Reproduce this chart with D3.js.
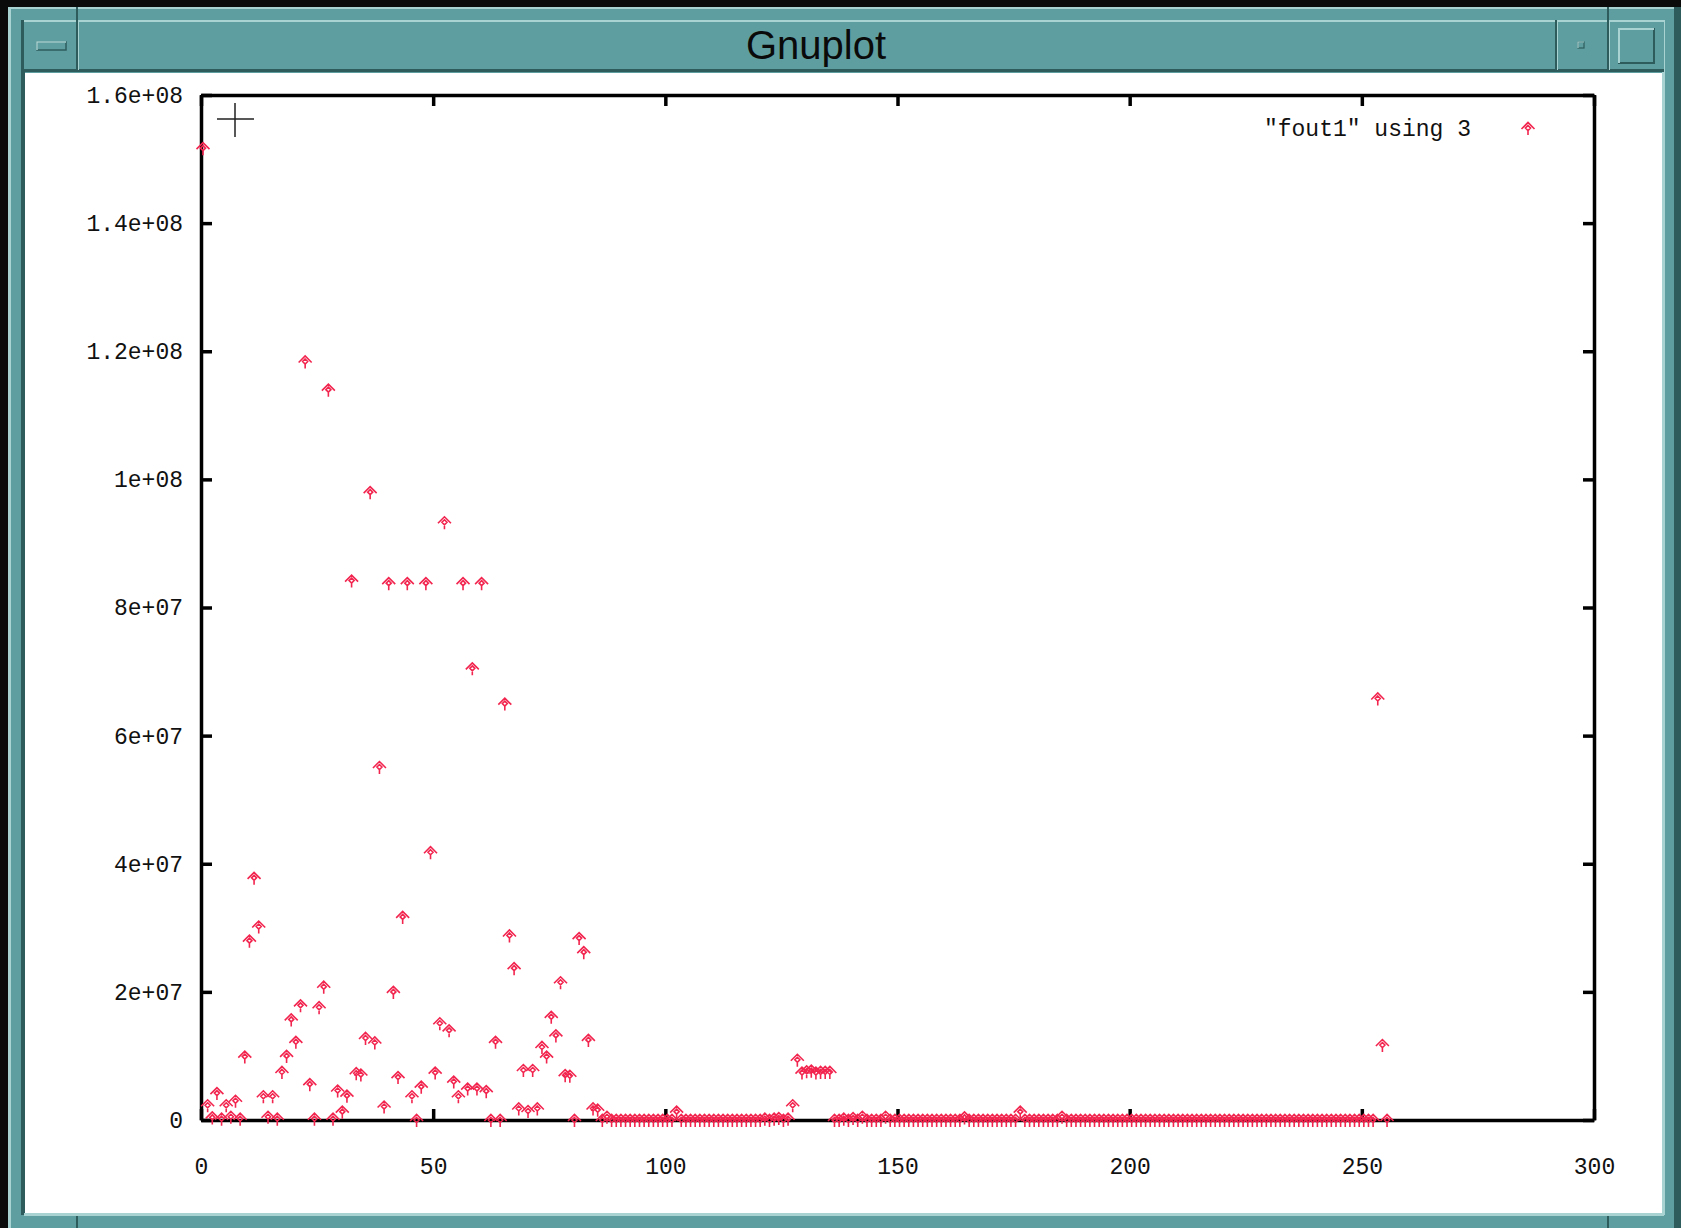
<!DOCTYPE html>
<html>
<head>
    <meta charset="UTF-8">
    <script src="https://d3js.org/d3.v7.min.js"></script>
    <style>
        body {
            margin: 0;
            background: #0b0b0b;
        }

        #gnuplotWindow svg {
            display: block;
        }

        .tick text,
        .legendText {
            font-family: "Liberation Mono", "DejaVu Sans Mono", monospace;
            font-size: 23px;
            fill: #111;
        }

        .titleText {
            font-family: "Liberation Sans", Arial, sans-serif;
            font-size: 40px;
            fill: #0a0a0a;
        }
    </style>
</head>

<body>
    <div id="gnuplotWindow">
        <svg></svg>
    </div>
    <script>
        // "fout1" using 3  -> column 3 plotted against the row index (values in millions)
        const seriesLabel = '"fout1" using 3'
        const valuesMillions = [
            151.7, 2.3, 0.4, 4.2, 0.2, 2.3, 0.5, 3.0, 0.2, 9.9, 28.0, 37.8, 30.2, 3.7, 0.5, 3.7,
            0.2, 7.5, 10.0, 15.7, 12.2, 17.9, 118.4, 5.6, 0.2, 17.6, 20.8, 114.0, 0.2, 4.6, 1.3, 3.8,
            84.2, 7.3, 7.1, 12.8, 98.0, 12.1, 55.1, 2.1, 83.8, 20.0, 6.7, 31.7, 83.8, 3.7, 0, 5.2,
            83.8, 41.8, 7.4, 15.1, 93.3, 14.0, 6.0, 3.7, 83.8, 4.9, 70.5, 4.9, 83.8, 4.5, 0, 12.2,
            0, 65.0, 28.8, 23.7, 1.8, 7.8, 1.4, 7.8, 1.8, 11.4, 9.9, 16.1, 13.2, 21.5, 7.0, 6.9,
            0, 28.4, 26.2, 12.5, 1.8, 1.6, 0, 0.5, 0, 0, 0, 0, 0, 0, 0, 0,
            0, 0, 0, 0, 0, 0, 1.3, 0, 0, 0, 0, 0, 0, 0, 0, 0,
            0, 0, 0, 0, 0, 0, 0, 0, 0, 0.2, 0, 0.2, 0.3, 0, 0.2, 2.3,
            9.4, 7.4, 7.6, 7.7, 7.4, 7.5, 7.5, 7.5, 0, 0, 0.2, 0, 0.3, 0, 0.5, 0,
            0, 0, 0, 0.5, 0, 0, 0, 0, 0, 0, 0, 0, 0, 0, 0, 0,
            0, 0, 0, 0, 0.4, 0, 0, 0, 0, 0, 0, 0, 0, 0, 0, 0,
            1.3, 0, 0, 0, 0, 0, 0, 0, 0, 0.5, 0, 0, 0, 0, 0, 0,
            0, 0, 0, 0, 0, 0, 0, 0, 0, 0, 0, 0, 0, 0, 0, 0,
            0, 0, 0, 0, 0, 0, 0, 0, 0, 0, 0, 0, 0, 0, 0, 0,
            0, 0, 0, 0, 0, 0, 0, 0, 0, 0, 0, 0, 0, 0, 0, 0,
            0, 0, 0, 0, 0, 0, 0, 0, 0, 0, 0, 0, 0, 65.8, 11.7, 0
        ]
        const xTickValues = [0, 50, 100, 150, 200, 250, 300]
        const yTickValues = [0, 2e7, 4e7, 6e7, 8e7, 1e8, 1.2e8, 1.4e8, 1.6e8]
        const yTickLabels = ["0", "2e+07", "4e+07", "6e+07", "8e+07", "1e+08", "1.2e+08", "1.4e+08", "1.6e+08"]

        let points = valuesMillions.map((v, i) => ({ index: i, value: v * 1e6 }))

        let width = 1681, height = 1228
        let teal = "#5f9ea0", light = "#a9d3d3", dark = "#2e5c5c"

        let svg = d3.select("#gnuplotWindow").select("svg")
            .attr("width", width)
            .attr("height", height)

        // ---- window frame (X11 / mwm style) ----
        svg.append("rect").attr("width", width).attr("height", height).attr("fill", "#0b0b0b")
        svg.append("rect").attr("x", 8).attr("y", 7).attr("width", width - 8).attr("height", height - 7).attr("fill", teal)
        svg.append("rect").attr("x", 8).attr("y", 7).attr("width", 3).attr("height", height - 7).attr("fill", light)
        svg.append("rect").attr("x", 8).attr("y", 7).attr("width", width - 8).attr("height", 2).attr("fill", light)
        svg.append("rect").attr("x", 21).attr("y", 20).attr("width", 4).attr("height", 1195).attr("fill", dark)
        svg.append("rect").attr("x", 1662).attr("y", 20).attr("width", 3).attr("height", 1195).attr("fill", light)
        svg.append("rect").attr("x", 1674).attr("y", 7).attr("width", 7).attr("height", height - 7).attr("fill", dark)

        // title bar
        svg.append("rect").attr("x", 24).attr("y", 20).attr("width", 1640).attr("height", 52).attr("fill", teal)
        svg.append("rect").attr("x", 24).attr("y", 20).attr("width", 1640).attr("height", 2).attr("fill", light)
        svg.append("rect").attr("x", 24).attr("y", 69).attr("width", 1640).attr("height", 3).attr("fill", dark)

        // separators in the title bar and the frame corners
        ;[77, 1556, 1608].forEach(sx => {
            svg.append("rect").attr("x", sx - 1).attr("y", 20).attr("width", 2).attr("height", 50).attr("fill", dark)
            svg.append("rect").attr("x", sx + 1).attr("y", 20).attr("width", 1).attr("height", 50).attr("fill", light)
        })
        ;[77, 1608].forEach(sx => {
            svg.append("rect").attr("x", sx - 1).attr("y", 7).attr("width", 2).attr("height", 13).attr("fill", dark)
            svg.append("rect").attr("x", sx - 1).attr("y", 1213).attr("width", 2).attr("height", 15).attr("fill", dark)
        })

        // menu button bar
        svg.append("rect").attr("x", 37).attr("y", 42).attr("width", 29).attr("height", 8).attr("fill", teal)
            .attr("stroke", dark).attr("stroke-width", 1.5)
        svg.append("path").attr("d", "M37,50 V42 H66").attr("fill", "none").attr("stroke", light).attr("stroke-width", 1.5)
        // minimize
        svg.append("rect").attr("x", 1578).attr("y", 42).attr("width", 6).attr("height", 6).attr("fill", teal)
            .attr("stroke", dark).attr("stroke-width", 1.2)
        svg.append("path").attr("d", "M1578,48 V42 H1584").attr("fill", "none").attr("stroke", light).attr("stroke-width", 1.2)
        // maximize
        svg.append("rect").attr("x", 1619).attr("y", 29).attr("width", 35).attr("height", 34).attr("fill", teal)
            .attr("stroke", dark).attr("stroke-width", 2)
        svg.append("path").attr("d", "M1619,63 V29 H1654").attr("fill", "none").attr("stroke", light).attr("stroke-width", 2)

        svg.append("text")
            .attr("class", "titleText")
            .attr("x", 816)
            .attr("y", 59)
            .attr("text-anchor", "middle")
            .text("Gnuplot")

        // client area
        svg.append("rect").attr("x", 25).attr("y", 73).attr("width", 1637).attr("height", 1140).attr("fill", "#ffffff")
        svg.append("rect").attr("x", 24).attr("y", 1213).attr("width", 1640).attr("height", 3).attr("fill", light)

        // ---- plot ----
        let x = d3.scaleLinear().domain([0, 300]).range([201, 1594])
        let y = d3.scaleLinear().domain([0, 1.6e8]).range([1120, 95])

        let plot = svg.append("g")

        plot.append("g")
            .attr("transform", `translate(0,${y(0)})`)
            .call(d3.axisBottom(x).tickValues(xTickValues).tickSize(-11).tickSizeOuter(0).tickPadding(38))
        plot.append("g")
            .attr("transform", `translate(0,${y(1.6e8)})`)
            .call(d3.axisTop(x).tickValues(xTickValues).tickSize(-11).tickSizeOuter(0).tickFormat(""))
        plot.append("g")
            .attr("transform", `translate(${x(0)},0)`)
            .call(d3.axisLeft(y).tickValues(yTickValues).tickSize(-11).tickSizeOuter(0).tickPadding(18)
                .tickFormat((d, i) => yTickLabels[i]))
        plot.append("g")
            .attr("transform", `translate(${x(300)},0)`)
            .call(d3.axisRight(y).tickValues(yTickValues).tickSize(-11).tickSizeOuter(0).tickFormat(""))

        plot.selectAll(".domain").attr("stroke", "#000").attr("stroke-width", 3.5)
        plot.selectAll(".tick line").attr("stroke", "#000").attr("stroke-width", 3.5)
        plot.selectAll(".tick text").style("font-size", "23px")

        // gnuplot point symbol (roof, small diamond, stem); drawn a little right of the data x like the X11 terminal
        let symbolPath = "M-6.5,1 L0,-5.5 L6.5,1 M0,-2.5 L2.5,0 L0,2.5 L-2.5,0 Z M0,2.5 V7"
        let pointColor = "#f2254f"
        let symbolShift = 2

        plot.append("g")
            .selectAll("path")
            .data(points)
            .join("path")
            .attr("transform", d => `translate(${x(d.index) + symbolShift},${y(d.value)})`)
            .attr("d", symbolPath)
            .attr("fill", "none")
            .attr("stroke", pointColor)
            .attr("stroke-width", 1.6)

        // legend
        svg.append("text")
            .attr("class", "legendText")
            .attr("x", 1471)
            .attr("y", 136)
            .attr("text-anchor", "end")
            .text(seriesLabel)
        svg.append("path")
            .attr("transform", "translate(1528,128)")
            .attr("d", symbolPath)
            .attr("fill", "none")
            .attr("stroke", pointColor)
            .attr("stroke-width", 1.6)

        // mouse cursor crosshair
        svg.append("path")
            .attr("d", "M235,103 V137 M217,119 H254")
            .attr("stroke", "#222")
            .attr("stroke-width", 1.5)
    </script>
</body>

</html>
